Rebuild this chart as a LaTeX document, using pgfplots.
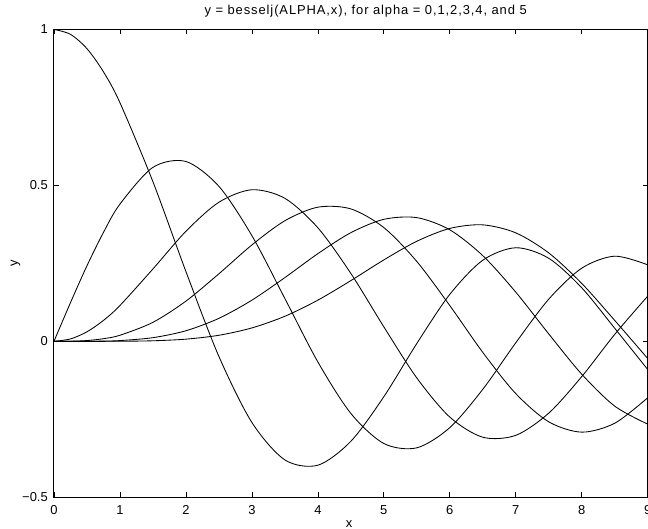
\documentclass[border=0pt]{standalone}
\usepackage{fontspec}
\setmainfont{Liberation Sans}
\usepackage{pgfplots}
\pgfplotsset{compat=1.18}
\usepackage{pgfplotstable}

% x, J0..J5
\pgfplotstableread{
x J0 J1 J2 J3 J4 J5
0.0 1.00000 0.00000 0.00000 0.00000 0.00000 0.00000
0.25 0.98444 0.12403 0.00777 0.00032 0.00001 0.00000
0.5 0.93847 0.24227 0.03060 0.00256 0.00016 0.00001
0.75 0.86424 0.34924 0.06707 0.00848 0.00080 0.00006
1.0 0.76520 0.44005 0.11490 0.01956 0.00248 0.00025
1.5 0.51183 0.55794 0.23209 0.06096 0.01177 0.00180
2.0 0.22389 0.57672 0.35283 0.12894 0.03400 0.00704
2.5 -0.04838 0.49709 0.44606 0.21660 0.07378 0.01950
3.0 -0.26005 0.33906 0.48609 0.30906 0.13203 0.04303
3.5 -0.38013 0.13738 0.45863 0.38677 0.20440 0.08043
4.0 -0.39715 -0.06604 0.36413 0.43017 0.28113 0.13209
4.5 -0.32054 -0.23106 0.21785 0.42470 0.34842 0.19471
5.0 -0.17760 -0.32758 0.04657 0.36483 0.39123 0.26114
5.5 -0.00684 -0.34144 -0.11731 0.25612 0.39671 0.32091
6.0 0.15065 -0.27668 -0.24287 0.11477 0.35764 0.36209
6.5 0.26009 -0.15384 -0.30743 -0.03535 0.27480 0.37357
7.0 0.30008 -0.00468 -0.30142 -0.16756 0.15780 0.34790
7.5 0.26634 0.13525 -0.23027 -0.25806 0.02382 0.28347
8.0 0.17165 0.23464 -0.11299 -0.29113 -0.10536 0.18577
8.5 0.04194 0.27312 0.02232 -0.26262 -0.20770 0.06714
9.0 -0.09033 0.24531 0.14485 -0.18094 -0.26547 -0.05504
}\besseldata

\newcommand{\lblfont}{\fontsize{13}{15}\selectfont}
\pgfplotsset{besselline/.style={black, solid, line width=0.85bp, smooth, no markers}}

\begin{document}
\begin{tikzpicture}
\begin{axis}[
  name=ax,
  scale only axis,
  width=594bp, height=468bp,
  xmin=0, xmax=9, ymin=-0.5, ymax=1,
  xtick={0,1,2,3,4,5,6,7,8,9},
  ytick={-0.5,0,0.5,1},
  yticklabels={−0.5,0,0.5,1},
  /pgf/number format/assume math mode=true,
  tick align=inside,
  major tick length=5bp,
  axis line style={line width=1bp},
  every tick/.style={black, line width=0.7bp},
  tick label style={font=\lblfont},
  xticklabel style={anchor=base, inner sep=0pt, yshift=-17.5bp},
  yticklabel style={anchor=east, inner sep=0pt, xshift=-6bp},
  title={y = besselj(ALPHA,x), for alpha = 0,1,2,3,4, and 5},
  title style={at={(axis description cs:0.525,1)}, anchor=base, inner sep=0pt, yshift=9.5bp, font=\lblfont\addfontfeatures{LetterSpace=7}},
  xlabel={x},
  xlabel style={at={(axis description cs:0.497,-0.0652)}, anchor=base, inner sep=0pt, font=\lblfont},
  ylabel={y},
  ylabel style={at={(axis description cs:-0.0614,0.5)}, anchor=base, inner sep=0pt, font=\lblfont},
]
\addplot[besselline] table[x=x, y=J0] {\besseldata};
\addplot[besselline] table[x=x, y=J1] {\besseldata};
\addplot[besselline] table[x=x, y=J2] {\besseldata};
\addplot[besselline] table[x=x, y=J3] {\besseldata};
\addplot[besselline] table[x=x, y=J4] {\besseldata};
\addplot[besselline] table[x=x, y=J5] {\besseldata};
\end{axis}
\pgfresetboundingbox
\path[use as bounding box] ([shift={(-54bp,-31.7bp)}]ax.south west) rectangle ([shift={(0.3bp,29.5bp)}]ax.north east);
\end{tikzpicture}
\end{document}
